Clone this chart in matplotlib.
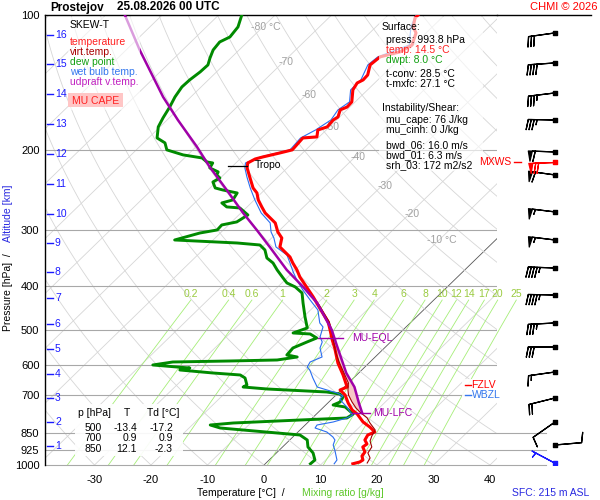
import numpy as np
import matplotlib
matplotlib.use("Agg")
import matplotlib.pyplot as plt
import matplotlib.transforms as mtransforms
from matplotlib.lines import Line2D
from matplotlib.patches import Rectangle
from matplotlib.ticker import NullLocator

plt.rcParams["font.family"] = ["Liberation Sans", "DejaVu Sans"]

# ---- sounding (p in hPa, temperatures in deg C) ----
P_T = [100.0, 101.5, 106.3, 109.6, 116.6, 120.8, 123.9, 129.1, 135.9, 139.4, 141.6, 146.7,
       156.0, 160.1, 162.5, 168.5, 171.1, 177.3, 180.1, 186.6, 187.6, 199.4, 202.5, 206.7,
       208.9, 213.2, 218.7, 229.0, 242.3, 248.6, 257.6, 267.0, 275.4, 282.5, 289.8, 303.5,
       313.0, 327.7, 336.2, 344.9, 355.7, 368.6, 382.1, 404.2, 423.2, 441.0, 459.4, 481.0,
       501.1, 527.4, 549.5, 593.4, 630.9, 670.9, 681.3, 698.9, 728.1, 754.7, 770.3, 802.5,
       823.3, 844.6, 857.7, 879.9, 898.1, 912.0, 935.7, 955.0, 974.7, 984.7, 993.8]
T_T = [-54.7, -54.7, -53.4, -51.8, -50.3, -51.2, -53.8, -54.1, -52.7, -52.6, -53.1, -52.6,
       -50.6, -50.5, -51.2, -50.3, -50.6, -50.4, -51.5, -50.4, -52.7, -52.4, -54.0, -56.3,
       -57.3, -57.9, -57.1, -55.0, -52.4, -50.8, -49.3, -47.4, -45.7, -43.9, -42.1, -40.0,
       -38.2, -36.9, -35.1, -33.3, -31.7, -29.7, -27.9, -24.6, -21.9, -19.6, -17.3, -14.7,
       -12.9, -10.7, -8.8, -5.5, -2.4, 0.5, -0.2, 1.6, 3.6, 5.6, 7.2, 9.7,
       11.8, 13.6, 12.9, 13.3, 14.4, 14.2, 15.5, 15.7, 16.6, 16.4, 15.5]

P_TD = [100.0, 106.3, 111.9, 114.8, 119.6, 124.6, 129.1, 133.8, 139.4, 144.5, 152.1, 160.1,
        169.3, 177.3, 187.6, 192.4, 199.4, 204.6, 207.8, 212.1, 213.2, 218.7, 223.2, 226.7,
        230.2, 235.0, 242.3, 244.8, 248.6, 257.6, 261.6, 267.0, 268.4, 278.2, 288.3, 292.8,
        300.4, 305.1, 316.2, 321.1, 324.4, 332.8, 346.7, 355.7, 368.6, 384.0, 394.0, 402.1,
        414.7, 436.5, 468.9, 496.0, 508.9, 511.5, 522.1, 532.9, 549.5, 569.5, 575.4, 584.3,
        587.3, 590.3, 599.4, 605.6, 608.7, 615.0, 624.5, 630.9, 640.7, 664.0, 670.9, 677.8,
        688.3, 695.4, 706.1, 724.4, 735.6, 743.2, 770.3, 786.2, 794.3, 806.6, 814.9, 827.5,
        848.9, 857.7, 879.9, 912.0, 940.4, 974.7, 993.8]
T_TD = [-85.9, -84.4, -84.0, -84.9, -84.6, -83.7, -82.8, -82.9, -83.3, -83.4, -82.8, -81.9,
        -81.1, -80.3, -78.5, -76.2, -74.6, -70.8, -66.9, -65.3, -64.1, -63.7, -61.5, -61.2,
        -60.1, -60.6, -59.1, -57.4, -54.3, -53.8, -55.2, -53.6, -51.1, -48.4, -49.1, -51.2,
        -51.1, -53.6, -56.8, -45.2, -40.8, -39.0, -37.2, -35.2, -33.2, -30.7, -29.1, -26.9,
        -24.6, -22.6, -19.7, -17.3, -18.9, -15.7, -13.8, -14.8, -16.2, -16.0, -13.8, -16.8,
        -25.0, -34.9, -37.9, -33.3, -30.8, -32.2, -25.8, -20.6, -19.2, -17.6, -17.9, -13.3,
        -2.2, 0.5, 1.6, 2.0, 1.3, 3.8, 6.5, 6.1, -1.8, -13.1, -16.8, -14.5,
        -3.5, 0.9, 3.1, 4.5, 6.5, 8.1, 8.0]

P_WB = [100.0, 106.3, 116.6, 123.9, 129.1, 139.4, 146.7, 156.0, 162.5, 171.1, 180.1, 187.6,
        199.4, 206.7, 213.2, 218.7, 229.0, 242.3, 257.6, 275.4, 289.8, 303.5, 313.0,
        327.7, 341.4, 355.7, 372.4, 388.0, 408.4, 429.8, 452.4, 483.5, 493.5, 519.4, 532.9,
        549.5, 575.4, 590.3, 605.6, 615.0, 640.7, 670.9, 681.3, 691.8, 702.5, 713.3, 728.1,
        743.2, 762.4, 774.2, 786.2, 802.5, 814.9, 827.5, 844.6, 866.5, 879.9, 902.7, 926.1,
        974.7, 993.8]
T_WB = [-55.1, -53.8, -50.8, -54.2, -54.5, -53.0, -53.0, -51.0, -51.6, -51.0, -51.9, -53.1,
        -52.8, -56.7, -58.3, -57.5, -55.5, -52.9, -49.9, -46.4, -43.0, -41.2, -39.6,
        -37.6, -34.2, -32.2, -30.0, -27.9, -25.0, -21.9, -18.7, -16.0, -14.7, -13.4, -12.1,
        -11.4, -9.4, -10.6, -10.2, -9.2, -7.2, -4.8, -2.5, -0.2, 1.4, 1.4, 2.7,
        4.1, 5.6, 6.6, 6.1, 4.4, 2.1, 2.3, 5.1, 7.1, 8.0, 8.6, 9.8,
        12.0, 12.2]

P_TV = [441.0, 459.4, 481.0, 501.1, 527.4, 563.7, 593.4, 624.5, 657.3, 681.3, 698.9, 724.4,
        747.0, 762.4, 786.2, 806.6, 836.0, 862.1, 884.4, 912.0, 940.4, 964.8, 989.8]
T_TV = [-19.4, -17.1, -14.5, -12.6, -10.5, -7.7, -5.2, -2.6, 0.0, 1.2, 2.2, 4.1,
        5.9, 7.3, 9.7, 11.1, 13.3, 13.8, 14.4, 15.8, 16.2, 17.5, 17.9]

P_PARCEL = [100.0, 119.6, 152.1, 171.1, 196.4, 217.6, 244.8, 275.4, 300.4, 327.7,
            368.6, 402.1, 436.5, 468.9, 501.1, 541.1, 624.5, 670.9, 728.1, 766.3]
T_PARCEL = [-106.6, -97.6, -84.9, -78.1, -69.8, -63.9, -56.7, -49.6, -44.1, -38.7,
            -31.5, -25.5, -20.1, -16.2, -12.6, -9.0, -2.2, 1.8, 5.5, 7.9]

# levels
TROPO_P, EQL_P, LFC_P = 217.0, 522.0, 766.0

# wind profile
WIND_P = [109.6, 127.8, 149.0, 171.1, 201.5, 212.1, 226.7, 273.9, 316.2, 364.9,
          418.9, 483.5, 546.7, 621.3, 709.7, 802.5, 902.7, 989.8]
WIND_DIR = [262, 266, 263, 271, 272, 268, 278, 277, 277, 272,
            271, 267, 270, 262, 256, 235, 85, 298]
WIND_KT = [30, 40, 35, 35, 60, 70, 60, 55, 55, 45,
           45, 35, 30, 15, 20, 10, 10, 5]
WIND_COL = ["black"] * 5 + ["red"] + ["black"] * 11 + ["#1a1aff"]

# axis labels / grid values
P_TICKS = [100, 200, 300, 400, 500, 600, 700, 850, 925, 1000]
T_TICKS = [-30, -20, -10, 0, 10, 20, 30, 40]
KM = list(range(1, 17))
KM_P = [907.3, 802.4, 709.7, 627.7, 552.3, 486.0, 425.4, 372.4, 321.1, 276.8,
        237.4, 203.6, 174.6, 149.8, 128.4, 110.7]
MIX = [0.2, 0.4, 0.6, 1, 2, 3, 4, 6, 8, 10, 12, 14, 17, 20, 25]
ISO_T = [-80, -70, -60, -50, -40, -30, -20, -10]
ISO_P = [106.3, 127.2, 150.5, 177.3, 206.7, 239.8, 277.0, 316.2]

TABLE_P = ["500", "700", "850"]
TABLE_T = ["-13.4", "0.9", "12.1"]
TABLE_TD = ["-17.2", "0.9", "-2.3"]

# ---- colours ----
RED, DRED, GREEN, BLUE, MAG = "#ff0000", "#a00000", "#008a00", "#2a6ef0", "#a000a8"
GRIDC, BGC, MRC, MRT, CAPEC = "#a8a8a8", "#d6d6d6", "#a6ee78", "#9acb40", "#f7c6c6"

W, H = 600, 500
L, R, TOP, BOT = 45, 497, 15, 465
SKEW = 35.6


def sx(t, p):
    return np.asarray(t, float) + SKEW * np.log(1000.0 / np.asarray(p, float))


def fx(px):
    return px / W


def fy(py):
    return 1 - py / H


def ftext(x, y, s, **kw):
    kw.setdefault("fontsize", 7.5)
    kw.setdefault("va", "center")
    kw.setdefault("zorder", 7)
    fig.text(fx(x), fy(y), s, **kw)


def fbox(x0, y0, x1, y1, fc="white", alpha=1.0, z=5):
    fig.add_artist(Rectangle((fx(x0), fy(y1)), (x1 - x0) / W, (y1 - y0) / H,
                             transform=fig.transFigure, facecolor=fc,
                             edgecolor="none", alpha=alpha, zorder=z))


fig = plt.figure(figsize=(6, 5), dpi=100, facecolor="white")
ax = fig.add_axes([fx(L), fy(BOT), (R - L) / W, (BOT - TOP) / H])
ax.set_yscale("log")
ax.set_ylim(1000, 100)
ax.set_xlim((L - 264) / 5.65, (R - 264) / 5.65)
for s in ("right", "bottom"):
    ax.spines[s].set_visible(False)
ax.spines["left"].set_linewidth(1.0)
ax.spines["top"].set_linewidth(1.0)

ax.set_yticks(P_TICKS)
ax.set_yticklabels([str(p) for p in P_TICKS])
ax.yaxis.set_minor_locator(NullLocator())
ax.set_xticks(T_TICKS)
ax.set_xticklabels([str(t) for t in T_TICKS])
ax.tick_params(axis="y", length=0, pad=4, labelsize=8)
ax.tick_params(axis="x", length=0, pad=7, labelsize=8)

# background: isotherms, dry adiabats
pp = np.geomspace(1000, 100, 80)
for t0 in range(-160, 60, 10):
    ax.plot(sx([t0, t0], [1000, 100]), [1000, 100],
            color="#555555" if t0 == 0 else BGC, lw=0.6, zorder=1)
for th in range(-40, 260, 10):
    t = (th + 273.15) * (pp / 1000.0) ** 0.2857 - 273.15
    ax.plot(sx(t, pp), pp, color=BGC, lw=0.6, zorder=1)
for t0, p0 in zip(ISO_T, ISO_P):
    lab = f"{t0} °C" if t0 in (-80, -10) else str(t0)
    ax.text(sx(t0, p0) + 0.5, p0, lab, ha="center", va="center",
            color="#a0a0a0", fontsize=7.5, zorder=2)

# mixing ratio lines
pm = np.linspace(1000, 430, 40)
for w in MIX:
    a = np.log(w * pm / (622.0 + w) / 6.112)
    td = 243.5 * a / (17.67 - a)
    ax.plot(sx(td, pm), pm, color=MRC, lw=0.6, zorder=1.2, clip_on=False)
    ax.text(sx(td[-1], pm[-1]), 417, f"{w:g}", ha="center", va="center",
            color=MRT, fontsize=7.5, zorder=2, clip_on=False)

# pressure lines
blend = mtransforms.blended_transform_factory(ax.transAxes, ax.transData)
for p in P_TICKS[1:7]:
    ax.axhline(p, color=GRIDC, lw=0.8, zorder=1.5)
for p in P_TICKS[7:]:
    ax.plot([0, (546 - L) / (R - L)], [p, p], transform=blend, color=GRIDC,
            lw=0.8, clip_on=False, zorder=1.5)

# altitude ticks
for km, p in zip(KM, KM_P):
    ax.plot([0.004, 0.017], [p, p], transform=blend, color="#1a1aff", lw=1.0,
            clip_on=False, zorder=3)
    ax.text(0.022, p, str(km), transform=blend, color="#1a1aff", fontsize=7.5,
            va="center", ha="left", zorder=3)

# CAPE area between parcel and virtual temperature
pg = np.linspace(EQL_P - 20, LFC_P, 120)
tp = np.interp(pg, P_PARCEL, T_PARCEL)
tv = np.interp(pg, P_TV, T_TV)
ax.fill_betweenx(pg, sx(tv, pg), sx(tp, pg), where=tp > tv, color=CAPEC, lw=0, zorder=2)

# profiles
ax.plot(sx(T_TD, P_TD), P_TD, color=GREEN, lw=2.1, zorder=3)
ax.plot(sx(T_WB, P_WB), P_WB, color=BLUE, lw=0.8, zorder=3.2)
ax.plot(sx(T_T, P_T), P_T, color=RED, lw=2.2, zorder=3.4)
ax.plot(sx(T_TV, P_TV), P_TV, color=DRED, lw=0.8, zorder=3.5)
ax.plot(sx(T_PARCEL, P_PARCEL), P_PARCEL, color=MAG, lw=1.8, zorder=3.6)

# tropopause / EQL / LFC markers
xt = sx(np.interp(TROPO_P, P_T, T_T), TROPO_P)
ax.plot([xt - 3.4, xt], [TROPO_P, TROPO_P], color="black", lw=0.9, zorder=4)
ax.text(xt + 1.3, TROPO_P * 0.995, "Tropo", fontsize=7.5, va="center", zorder=4)
xe = sx(np.interp(EQL_P, P_PARCEL, T_PARCEL), EQL_P)
ax.plot([xe - 2.8, xe + 1.6], [EQL_P, EQL_P], color=MAG, lw=1.0, zorder=4)
ax.text(xe + 3.1, EQL_P, "MU-EQL", color=MAG, fontsize=7.5, va="center", zorder=4)
xl = sx(np.interp(LFC_P, P_PARCEL, T_PARCEL), LFC_P)
ax.plot([xl - 1.8, xl + 1.4], [LFC_P, LFC_P], color=MAG, lw=1.0, zorder=4)
ax.text(xl + 2.0, LFC_P, "MU-LFC", color=MAG, fontsize=7.5, va="center", zorder=4)

# wind barbs
axw = fig.add_axes([fx(R), fy(BOT), (W - R) / W, (BOT - TOP) / H])
axw.set_xlim(R, W)
axw.set_yscale("log")
axw.set_ylim(1000, 100)
axw.axis("off")
wd = np.radians(WIND_DIR)
ws = np.array(WIND_KT, float)
u, v = -ws * np.sin(wd), -ws * np.cos(wd)
wp = np.array(WIND_P)
for c in ["black", "red", "#1a1aff"]:
    m = np.array([k == c for k in WIND_COL])
    axw.barbs(np.full(m.sum(), 555.0), wp[m], u[m], v[m], length=6.2, pivot="tip",
              sizes=dict(spacing=0.11, height=0.38, width=0.15, emptybarb=0.0),
              color=c, lw=0.9, flip_barb=True, zorder=3, clip_on=False)
    axw.scatter(np.full(m.sum(), 555.0), wp[m], marker="s", s=5, color=c, zorder=4)

# frame extension along the top
fig.add_artist(Line2D([fx(R), fx(591)], [fy(TOP)] * 2, color="black", lw=1.0, zorder=4))

# legend box (upper left)
fbox(68, 17, 140, 110, alpha=0.62)
ftext(70, 25, "SKEW-T")
for yy, s, c in [(42, "temperature", "#ff2020"), (52, "virt.temp.", "#a80000"),
                 (62, "dew point", "#12a012"), (72, "wet bulb temp.", "#3377ee"),
                 (82, "udpraft v.temp.", "#c020c0")]:
    ftext(70, yy, s, color=c)
fbox(68, 93, 123, 107, fc="#ffc6c6", z=5.5)
ftext(95.5, 100.5, "MU CAPE", color="#ff2020", ha="center")

# info box (upper right)
fbox(379, 17, 483, 171, alpha=0.65)
info = [(382, 27, "Surface:", "black"), (386, 40, "press: 993.8 hPa", "black"),
        (386, 50, "temp: 14.5 °C", "#ff2020"), (386, 60, "dwpt: 8.0 °C", "#12a012"),
        (386, 74, "t-conv: 28.5 °C", "black"), (386, 84, "t-mxfc: 27.1 °C", "black"),
        (382, 108, "Instability/Shear:", "black"), (386, 120, "mu_cape: 76 J/kg", "black"),
        (386, 130, "mu_cinh: 0 J/kg", "black"), (386, 145, "bwd_06: 16.0 m/s", "black"),
        (386, 155, "bwd_01: 6.3 m/s", "black"), (386, 165, "srh_03: 172 m2/s2", "black")]
for x0, y0, s, c in info:
    ftext(x0, y0, s, color=c)

# table (lower left)
fbox(75, 404, 183, 456, alpha=0.92)
ftext(78, 413, "p [hPa]")
ftext(127, 413, "T", ha="center")
ftext(147, 413, "Td [°C]")
for i, (a, b, c) in enumerate(zip(TABLE_P, TABLE_T, TABLE_TD)):
    yy = 428 + 10.4 * i
    ftext(102, yy, a, ha="right")
    ftext(137, yy, b, ha="right")
    ftext(173, yy, c, ha="right")

# freezing / wet-bulb-zero levels
fbox(462, 379, 508, 401, alpha=0.9)
fig.add_artist(Line2D([fx(465), fx(471)], [fy(385)] * 2, color="red", lw=1.0, zorder=6))
ftext(471.5, 385, "FZLV", color="red")
fig.add_artist(Line2D([fx(465), fx(471)], [fy(395)] * 2, color="#3377ee", lw=1.0, zorder=6))
ftext(471.5, 395, "WBZL", color="#3377ee")

# max wind
ftext(511, 162, "MXWS", color="red", ha="right")
fig.add_artist(Line2D([fx(514), fx(521)], [fy(162)] * 2, color="red", lw=1.0, zorder=6))

# titles and axis labels
ftext(50, 7.5, "Prostejov", fontsize=8.5, fontweight="bold")
ftext(117, 7.5, "25.08.2026 00 UTC", fontsize=8.5, fontweight="bold")
ftext(598, 7.5, "CHMI © 2026", color="red", ha="right", fontsize=8)
ftext(197, 493, "Temperature [°C]  /")
ftext(302, 493, "Mixing ratio [g/kg]", color="#5ec82a")
ftext(589, 493, "SFC: 215 m ASL", color="#2828e0", ha="right")
ftext(8.5, 292, "Pressure [hPa]  /", rotation=90, ha="center")
ftext(8.5, 213, "Altitude [km]", rotation=90, ha="center", color="#2828e0")

fig.savefig("out.png", dpi=100, facecolor="white")
